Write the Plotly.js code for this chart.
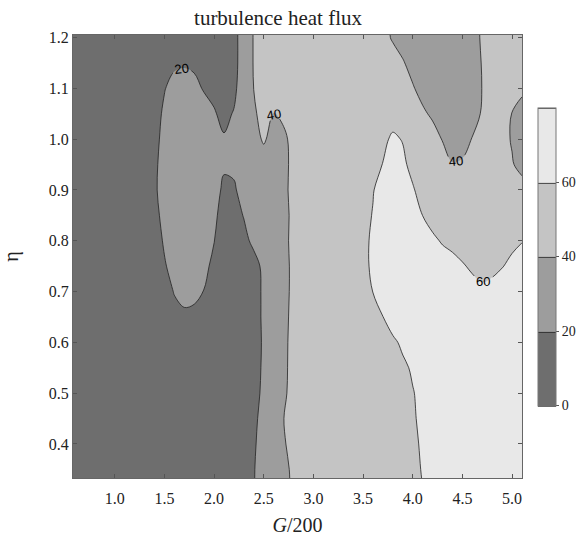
<!DOCTYPE html>
<html>
<head>
<meta charset="utf-8">
<script src="https://cdn.plot.ly/plotly-3.0.1.min.js"></script>
<style>html,body{margin:0;padding:0;background:#fff;}#chart{width:578px;height:540px;}</style>
</head>
<body>
<div id="chart"></div>
<script>
// G/200 sample positions
var xVals = [0.5, 1.0, 1.4, 1.5, 1.6, 1.7, 1.8, 1.9, 2.0, 2.1, 2.2, 2.3, 2.4, 2.5, 2.6, 2.7, 2.8, 2.9, 3.2, 3.5,
             3.6, 3.7, 3.8, 3.9, 4.0, 4.1, 4.2, 4.3, 4.4, 4.5, 4.6, 4.7, 4.8, 4.9, 5.0, 5.1];
// eta sample positions
var yVals = [0.30, 0.35, 0.40, 0.45, 0.50, 0.55, 0.60, 0.65, 0.70, 0.75, 0.80, 0.85, 0.90, 0.95, 1.00, 1.05, 1.10, 1.15, 1.20, 1.25];

// turbulence heat flux, one row per eta value
var row030 = [5, 8, 10, 11, 11, 11, 11, 11, 11, 11, 11, 13.5, 19.3, 26, 31, 35.5, 42.5, 47, 50, 52, 53, 54, 55, 56, 57.5, 59.8, 62.5, 64.5, 66, 67, 68, 68, 68, 68, 68, 68];
var row035 = [5, 8, 10, 11, 11, 11, 11, 11, 11, 11, 11, 13.5, 19.3, 26, 31, 36, 43, 47, 50, 52, 53, 54, 55, 56, 58, 60.5, 63, 65, 66.5, 67.5, 68, 68, 68, 68, 68, 68];
var row040 = [5, 8, 10, 11, 11, 11, 11, 11, 11, 11, 11, 13, 18.5, 25, 31, 38.5, 45, 48, 50, 52, 53, 54, 55, 56.5, 58.5, 61, 63.5, 65.5, 67, 68, 69, 69, 69, 69, 69, 69];
var row045 = [5, 8, 10, 11, 11, 11, 11, 11, 11, 11, 11, 13, 17.5, 24, 31, 39.8, 46, 48, 50, 52, 53, 54, 55.5, 57, 59.2, 61.5, 64, 66, 68, 69, 70, 70, 70, 70, 70, 70];
var row050 = [5, 8, 10, 11, 11, 11, 11, 11, 11, 11, 11, 12, 16, 22.5, 29, 37.5, 45, 47, 50, 52, 53, 54, 55.5, 57.5, 59.6, 62, 65, 67, 69, 70, 70, 71, 71, 71, 71, 71];
var row055 = [5, 8, 11, 12, 12, 12, 12, 12, 12, 11, 11, 12, 15, 22, 28.5, 37, 44.5, 46, 50, 53, 54, 55, 56.5, 58.5, 61, 64, 67, 69, 70, 71, 71, 71, 71, 71, 71, 71];
var row060 = [5, 9, 12, 13, 14, 14, 14, 14, 13, 12, 11, 12, 15, 21.5, 28, 37, 44, 46, 51, 54, 55, 56.5, 58.5, 61.5, 65, 69, 71, 72, 72, 72, 71, 70, 70, 70, 70, 70];
var row065 = [5, 10, 13, 15, 17, 18.5, 18, 16, 14, 12, 11, 12, 15, 22, 28, 37, 43, 46, 53, 56, 57.5, 59.9, 64, 68, 71, 72, 72, 72, 71, 70, 68, 67, 67, 67, 68, 68];
var row070 = [5, 10, 14, 16, 20.5, 22.5, 22, 19.8, 16, 13, 11, 12, 15, 22, 28, 36, 43, 47, 55, 58, 60.1, 64, 68, 71, 72, 72, 71, 70, 68, 65, 62.3, 61.1, 61.9, 62.5, 64, 66];
var row075 = [5, 10, 15, 19.2, 23, 25, 24, 21.5, 18.5, 14, 12, 13, 16, 22.5, 28, 36.5, 42.5, 47, 55, 58.5, 61, 65, 69, 71, 71, 69, 67, 65, 63, 60.6, 59, 58, 58.5, 59.8, 61, 63.5];
var row080 = [5, 10, 16, 21, 25, 27, 26, 23, 20.2, 15, 14, 17, 22.5, 27, 31, 37, 43, 47, 54, 58.5, 61, 65, 69, 70, 68, 65, 62, 59, 57.5, 57, 57, 57, 57.5, 58, 59, 59.7];
var row085 = [5, 10, 18, 22, 26, 28, 27, 25, 21.5, 17, 16, 20.5, 25, 29, 33, 37.5, 42, 46, 54, 57, 60.5, 64, 68, 68, 65, 59.9, 56, 53, 51, 51, 52, 53, 53, 52, 51, 50];
var row090 = [5, 10, 18.5, 24, 28, 30, 29, 27, 23, 18.5, 19, 23, 28, 32, 35, 38, 42.5, 46, 53, 57, 59.5, 64, 67, 66, 61, 56, 52, 49, 47, 48, 49, 50, 50, 48, 46, 45];
var row095 = [5, 10, 18, 24, 28, 30, 30, 29, 26, 21, 21.5, 29, 33, 36, 37, 37, 43, 46, 52, 56, 58, 60.2, 64, 62, 57, 52, 48, 44, 40.5, 41.5, 44, 47, 48, 45, 41, 36];
var row100 = [5, 10, 17, 23, 27, 29, 29, 28, 26, 21, 25, 31, 37, 41, 37, 38, 43, 46, 52, 55, 57, 58, 61.5, 59.5, 55, 50, 45, 39.5, 35, 35.5, 40.5, 44, 46, 44, 39, 34];
var row105 = [5, 9, 15.3, 22, 26, 28, 27, 25, 21, 17, 20.8, 30, 38.3, 44, 39.5, 42, 48, 50, 53, 54, 54, 55, 56, 52, 48, 42, 38, 34, 32, 33, 36, 41, 44, 43, 39.8, 36];
var row110 = [5, 9, 14, 19.4, 24, 26, 23, 19, 17, 16, 17, 28, 40.2, 44, 47, 49, 51, 52, 54, 53, 52, 50, 48, 45, 41, 36, 33, 31, 31, 33, 36, 40.2, 43, 44, 43, 42];
var row115 = [5, 8, 13, 16, 18, 18.5, 18, 16, 14, 13, 15, 28, 41, 45, 48, 50, 52, 53, 54, 52, 50, 47, 44, 41, 36, 33, 31, 30, 31, 33, 36, 40.5, 44, 46, 46, 46];
var row120 = [5, 8, 11, 13, 14, 14, 14, 14, 15, 16, 15, 28, 41, 45, 48, 50, 52, 53, 54, 50, 47, 43, 39, 35, 33, 31, 30, 30, 31, 33, 37, 41, 44, 46, 46, 46];
var row125 = [5, 8, 11, 13, 14, 14, 14, 14, 15, 16, 15, 28, 41, 45, 48, 50, 52, 53, 54, 50, 47, 43, 39, 35, 33, 31, 30, 30, 31, 33, 37, 41, 44, 46, 46, 46];

var levelTicks = [0, 20, 40, 60];
var bandColors = ['#6e6e6e', '#9d9d9d', '#c4c4c4', '#e8e8e8'];

var zRows = [row030, row035, row040, row045, row050, row055, row060, row065, row070, row075,
             row080, row085, row090, row095, row100, row105, row110, row115, row120, row125];

var cscale = [
  [0, bandColors[0]], [0.25, bandColors[0]],
  [0.25, bandColors[1]], [0.5, bandColors[1]],
  [0.5, bandColors[2]], [0.75, bandColors[2]],
  [0.75, bandColors[3]], [1, bandColors[3]]
];

var serif = 'Liberation Serif, DejaVu Serif, serif';

var trace = {
  type: 'contour',
  x: xVals,
  y: yVals,
  z: zRows,
  zmin: 0,
  zmax: 80,
  autocontour: false,
  contours: {
    start: 0, end: 80, size: 20,
    coloring: 'fill',
    showlabels: true,
    labelfont: {family: 'Liberation Sans, Arial, sans-serif', size: 13, color: '#000'}
  },
  line: {color: '#222', width: 0.8, smoothing: 1},
  colorscale: cscale,
  showscale: true,
  colorbar: {
    x: 1.036, xanchor: 'left',
    y: 0.5, yanchor: 'middle',
    len: 0.673, lenmode: 'fraction',
    thickness: 18,
    outlinecolor: '#777', outlinewidth: 1,
    tickvals: levelTicks,
    ticktext: levelTicks.map(String),
    ticks: 'outside', ticklen: 3, tickcolor: '#555',
    tickfont: {family: serif, size: 14, color: '#222'},
    xpad: 0, ypad: 0
  },
  hoverinfo: 'skip'
};

var layout = {
  width: 578, height: 540,
  margin: {l: 73, r: 56, t: 35, b: 62, autoexpand: false},
  paper_bgcolor: '#fff',
  plot_bgcolor: '#fff',
  title: {text: 'turbulence heat flux', x: 0.481, xanchor: 'center', y: 0.968, yanchor: 'middle',
          font: {family: serif, size: 21, color: '#222'}},
  xaxis: {
    range: [0.58, 5.1],
    tickvals: [1.0, 1.5, 2.0, 2.5, 3.0, 3.5, 4.0, 4.5, 5.0],
    ticktext: ['1.0', '1.5', '2.0', '2.5', '3.0', '3.5', '4.0', '4.5', '5.0'],
    ticks: 'inside', ticklen: 4, tickcolor: '#555',
    showline: true, linecolor: '#666', linewidth: 1, mirror: 'ticks',
    showgrid: false, zeroline: false,
    ticklabelstandoff: 6,
    tickfont: {family: serif, size: 16, color: '#222'},
    title: {text: '<i>G</i>/200', font: {family: serif, size: 20, color: '#222'}, standoff: 11}
  },
  yaxis: {
    range: [0.333, 1.205],
    tickvals: [0.4, 0.5, 0.6, 0.7, 0.8, 0.9, 1.0, 1.1, 1.2],
    ticktext: ['0.4', '0.5', '0.6', '0.7', '0.8', '0.9', '1.0', '1.1', '1.2'],
    ticks: 'inside', ticklen: 4, tickcolor: '#555',
    showline: true, linecolor: '#666', linewidth: 1, mirror: 'ticks',
    showgrid: false, zeroline: false,
    tickfont: {family: serif, size: 16, color: '#222'},
    title: {text: 'η', font: {family: serif, size: 20, color: '#222'}, standoff: 24}
  },
  showlegend: false
};

Plotly.newPlot('chart', [trace], layout, {staticPlot: true, displayModeBar: false});
</script>
</body>
</html>
